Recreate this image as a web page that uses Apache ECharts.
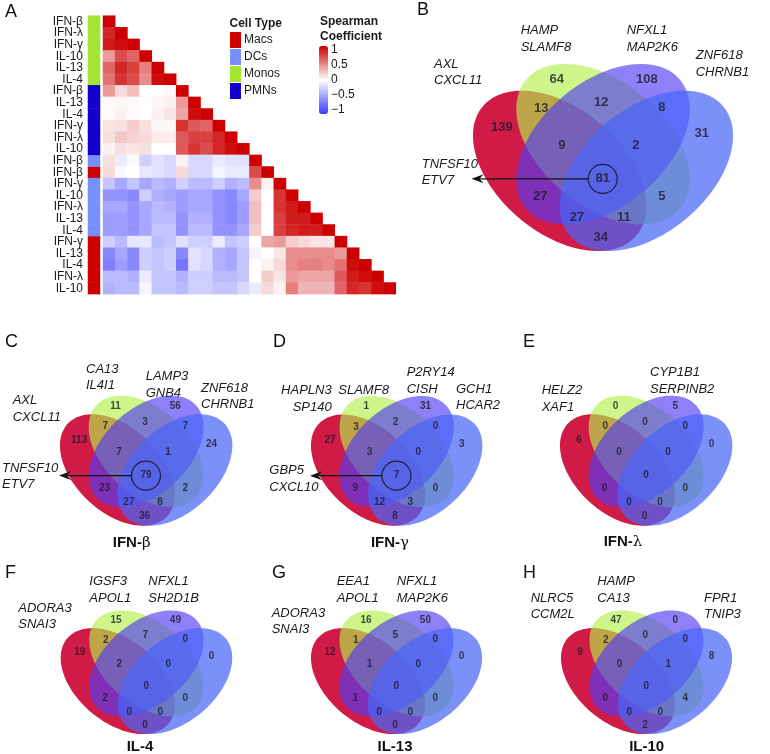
<!DOCTYPE html>
<html><head><meta charset="utf-8">
<script src="https://cdn.jsdelivr.net/npm/echarts@6/dist/echarts.min.js"></script>
<style>html,body{margin:0;padding:0;background:#fff}#c{width:770px;height:754px}</style>
</head><body><div id="c"></div><script>
const FONT = '"Liberation Sans", Arial, Helvetica, sans-serif';

// ---------- Panel A data ----------
const rowLabels = ['IFN-β','IFN-λ','IFN-γ','IL-10','IL-13','IL-4',
  'IFN-β','IL-13','IL-4','IFN-γ','IFN-λ','IL-10',
  'IFN-β','IFN-β',
  'IFN-γ','IL-10','IFN-λ','IL-13','IL-4',
  'IFN-γ','IL-13','IL-4','IFN-λ','IL-10'];
const rowCellType = ['Monos','Monos','Monos','Monos','Monos','Monos',
  'PMNs','PMNs','PMNs','PMNs','PMNs','PMNs',
  'DCs','Macs',
  'DCs','DCs','DCs','DCs','DCs',
  'Macs','Macs','Macs','Macs','Macs'];
const cellTypes = ['Macs','DCs','Monos','PMNs'];
const cellTypeColors = ['#cc0000','#7890ff','#a0e632','#1400cc'];
const corr = [
 [1],
 [0.85,1],
 [0.9,0.95,1],
 [0.4,0.7,0.6,1],
 [0.6,0.85,0.75,0.5,1],
 [0.55,0.8,0.7,0.45,0.95,1],
 [0.4,0.15,0.25,0.0,0.0,0.03,1],
 [0.02,0.03,0.02,0.0,0.03,0.05,0.4,1],
 [0.02,0.05,0.02,0.0,0.05,0.1,0.35,0.95,1],
 [0.1,0.12,0.2,0.12,0.03,0.03,0.8,0.65,0.6,1],
 [0.12,0.22,0.18,0.15,0.08,0.08,0.65,0.75,0.75,0.85,1],
 [0.05,0.12,0.1,0.12,0.0,0.0,0.65,0.8,0.7,0.85,0.95,1],
 [0.12,-0.1,-0.02,-0.25,-0.15,-0.2,0.05,-0.2,-0.2,-0.1,-0.15,-0.15,1],
 [0.15,-0.03,0.0,-0.12,-0.15,-0.2,0.15,-0.2,-0.2,-0.05,-0.1,-0.1,0.7,1],
 [-0.3,-0.45,-0.3,-0.45,-0.35,-0.4,-0.25,-0.35,-0.35,-0.25,-0.4,-0.35,0.45,0.05,1],
 [-0.55,-0.55,-0.6,-0.25,-0.4,-0.45,-0.5,-0.45,-0.45,-0.55,-0.6,-0.45,0.2,0.0,0.8,1],
 [-0.45,-0.45,-0.55,-0.45,-0.35,-0.4,-0.5,-0.45,-0.45,-0.55,-0.6,-0.5,0.25,0.0,0.8,0.9,1],
 [-0.5,-0.5,-0.55,-0.45,-0.35,-0.35,-0.55,-0.4,-0.4,-0.55,-0.6,-0.5,0.25,0.0,0.75,0.9,0.9,1],
 [-0.5,-0.5,-0.55,-0.45,-0.3,-0.3,-0.55,-0.35,-0.35,-0.55,-0.55,-0.45,0.2,0.0,0.75,0.85,0.9,0.9,1],
 [-0.25,-0.35,-0.12,-0.12,-0.35,-0.3,-0.15,-0.25,-0.25,-0.1,-0.3,-0.25,0.0,0.35,0.4,0.2,0.15,0.1,0.1,1],
 [-0.6,-0.45,-0.6,-0.25,-0.3,-0.25,-0.6,-0.15,-0.2,-0.4,-0.45,-0.3,-0.05,0.0,0.1,0.45,0.45,0.45,0.45,0.4,1],
 [-0.65,-0.5,-0.6,-0.25,-0.3,-0.25,-0.7,-0.15,-0.2,-0.4,-0.45,-0.3,0.0,0.05,0.15,0.45,0.5,0.5,0.45,0.55,0.95,1],
 [-0.35,-0.35,-0.4,-0.1,-0.3,-0.3,-0.4,-0.25,-0.25,-0.35,-0.35,-0.3,0.0,0.2,0.1,0.4,0.35,0.35,0.35,0.65,0.9,0.95,1],
 [-0.4,-0.35,-0.35,-0.05,-0.3,-0.3,-0.35,-0.25,-0.25,-0.3,-0.3,-0.2,-0.1,0.15,0.05,0.5,0.3,0.3,0.3,0.6,0.85,0.8,0.95,1]
];
const scaleMin = -1, scaleMax = 1, scaleStep = 0.5;

// ---------- Venn data (regions: A=red, B=green, C=purple, D=blue) ----------
const regions = ['A','B','C','D','AB','BC','CD','ABC','BCD','ABCD','AC','BD','ACD','ABD','AD'];
const countsB = [139,64,108,31,13,12,8,9,2,81,27,5,27,11,34];
const countsC = [113,11,56,24,7,3,7,7,1,79,23,2,27,8,36];
const countsD = [27,1,31,3,3,2,0,3,0,7,9,0,12,3,8];
const countsE = [6,0,5,0,0,0,0,0,0,0,0,0,0,0,0];
const countsF = [19,15,49,0,2,7,0,2,0,0,2,0,0,0,0];
const countsG = [12,16,50,0,1,5,0,1,0,0,1,0,0,0,0];
const countsH = [9,47,0,8,2,0,0,0,1,0,0,4,0,0,2];

const genesB = [['AXL','CXCL11'],['HAMP','SLAMF8'],['NFXL1','MAP2K6'],['ZNF618','CHRNB1'],['TNFSF10','ETV7']];
const genesC = [['AXL','CXCL11'],['CA13','IL4I1'],['LAMP3','GNB4'],['ZNF618','CHRNB1'],['TNFSF10','ETV7']];
const genesD = [['HAPLN3','SP140'],['SLAMF8'],['P2RY14','CISH'],['GCH1','HCAR2'],['GBP5','CXCL10']];
const genesE = [['HELZ2','XAF1'],['CYP1B1','SERPINB2']];
const genesF = [['ADORA3','SNAI3'],['IGSF3','APOL1'],['NFXL1','SH2D1B']];
const genesG = [['ADORA3','SNAI3'],['EEA1','APOL1'],['NFXL1','MAP2K6']];
const genesH = [['NLRC5','CCM2L'],['HAMP','CA13'],['FPR1','TNIP3']];
const titleNames = [['IFN-','β'],['IFN-','γ'],['IFN-','λ'],['IL-4',''],['IL-13',''],['IL-10','']];

// ---------- Layout ----------
const regionXY = {A:[0.150,0.632],B:[0.340,0.813],C:[0.652,0.813],D:[0.842,0.611],AB:[0.286,0.704],
  BC:[0.494,0.727],CD:[0.704,0.707],ABC:[0.358,0.567],BCD:[0.614,0.567],ABCD:[0.499,0.44],
  AC:[0.283,0.373],BD:[0.704,0.373],ACD:[0.410,0.296],ABD:[0.572,0.296],AD:[0.492,0.221]};
const ELL = [
  {cx:0.35, cy:0.47, rot:135, fill:'rgba(203,2,50,0.9)'},
  {cx:0.50, cy:0.57, rot:135, fill:'rgba(178,240,75,0.65)'},
  {cx:0.50, cy:0.57, rot:45,  fill:'rgba(81,60,243,0.65)'},
  {cx:0.65, cy:0.47, rot:45,  fill:'rgba(73,101,247,0.72)'}
];
const ELL_A = 0.36, ELL_B = 0.225;

const venns = [
  {letter:'B', lx:417, ly:10, counts:countsB, genes:genesB, box:[473,64,260,187], fs:13, circle:true,
   gpos:[[434,64.3,'left'],[520.7,30.7,'left'],[626.7,30.7,'left'],[695.7,55.7,'left'],[421.7,164.3,'left']]},
  {letter:'C', lx:5, ly:342.5, counts:countsC, genes:genesC, box:[60,395.7,172.3,130], fs:10, circle:true,
   gpos:[[12.7,400.7,'left'],[86,369.3,'left'],[145.7,376.5,'left'],[201,388.3,'left'],[2,468.3,'left']],
   title:titleNames[0], tx:131.7, ty:543.3},
  {letter:'D', lx:273, ly:342.5, counts:countsD, genes:genesD, box:[311,396,171.3,129.7], fs:10, circle:true,
   gpos:[[331.7,390.7,'right'],[338.3,390.7,'left'],[406.7,372.7,'left'],[456,389.3,'left'],[269.3,470.7,'left']],
   title:titleNames[1], tx:390, ty:543.3},
  {letter:'E', lx:523, ly:342.5, counts:countsE, genes:genesE, box:[560,395.7,172.3,130], fs:10, circle:false,
   gpos:[[541.7,390.7,'left'],[650,372.7,'left']],
   title:titleNames[2], tx:623, ty:541.7},
  {letter:'F', lx:5, ly:573.5, counts:countsF, genes:genesF, box:[60.7,610.5,171.5,123.5], fs:10, circle:false,
   gpos:[[18.3,608.3,'left'],[89.3,581.7,'left'],[148.3,581.7,'left']],
   title:titleNames[3], tx:140, ty:746.5},
  {letter:'G', lx:272, ly:573.5, counts:countsG, genes:genesG, box:[311,610.5,171,123.5], fs:10, circle:false,
   gpos:[[271.7,613.3,'left'],[336.7,581.7,'left'],[396.7,581.7,'left']],
   title:titleNames[4], tx:395, ty:746.5},
  {letter:'H', lx:523, ly:573.5, counts:countsH, genes:genesH, box:[561,610.5,171,123.5], fs:10, circle:false,
   gpos:[[530.7,598.3,'left'],[597.3,581.7,'left'],[704,598.3,'left']],
   title:titleNames[5], tx:646.7, ty:746.5}
];

// ---------- Build option ----------
const idx = rowLabels.map((_, i) => i);
const heatData = [];
corr.forEach((row, r) => row.forEach((v, c) => heatData.push([c, r, v])));

const grids = [], xAxes = [], yAxes = [], series = [], graphics = [];
grids.push({left:103, top:15.7, width:292.8, height:278.4});
xAxes.push({type:'category', data:idx, show:false, gridIndex:0});
yAxes.push({type:'category', data:idx, inverse:true, show:false, gridIndex:0});
series.push({type:'heatmap', xAxisIndex:0, yAxisIndex:0, data:heatData, itemStyle:{borderWidth:0}, emphasis:{disabled:true}});
grids.push({left:88, top:15.7, width:12, height:278.4});
xAxes.push({type:'category', data:[0], show:false, gridIndex:1});
yAxes.push({type:'category', data:idx, inverse:true, gridIndex:1,
  axisLine:{show:false}, axisTick:{show:false}, splitLine:{show:false},
  axisLabel:{interval:0, margin:5, fontSize:12, color:'#1a1a1a', fontFamily:FONT, formatter:(v, i) => rowLabels[i]}});
cellTypes.forEach((ct, k) => {
  series.push({type:'heatmap', name:ct, xAxisIndex:1, yAxisIndex:1,
    data: rowCellType.map((t, i) => t === ct ? [0, i, 1] : null).filter(d => d),
    itemStyle:{color:cellTypeColors[k], borderWidth:0}, emphasis:{disabled:true}});
});
grids.push({left:319, top:50, width:9, height:60});
xAxes.push({type:'value', show:false, gridIndex:2});
yAxes.push({type:'value', gridIndex:2, min:scaleMin, max:scaleMax, interval:scaleStep, position:'right',
  axisLine:{show:false}, axisTick:{show:false}, splitLine:{show:false},
  axisLabel:{margin:3, fontSize:12, color:'#1a1a1a', fontFamily:FONT, formatter:v => String(v).replace('-', '\u2212')}});

function ellipseItem(params, api) {
  const e = ELL[params.dataIndex];
  const th = e.rot * Math.PI / 180, c = Math.cos(th), s = Math.sin(th);
  const pts = [];
  for (let k = 0; k < 120; k++) {
    const t = 2 * Math.PI * k / 120;
    const x = e.cx + ELL_A * Math.cos(t) * c - ELL_B * Math.sin(t) * s;
    const y = e.cy + ELL_A * Math.cos(t) * s + ELL_B * Math.sin(t) * c;
    pts.push(api.coord([x, y]));
  }
  return {type:'polygon', shape:{points:pts}, style:{fill:e.fill}};
}
function arrowItem(params, api) {
  const p = api.coord([api.value(0), api.value(1)]);
  const tip = api.coord([0.045, api.value(1)])[0];
  const y = p[1], x0 = p[0] - 14.5;
  return {type:'group', children:[
    {type:'line', shape:{x1:x0, y1:y, x2:tip + 7, y2:y}, style:{stroke:'#111', lineWidth:1.2}},
    {type:'polygon', shape:{points:[[tip, y], [tip + 12, y - 4.5], [tip + 8, y], [tip + 12, y + 4.5]]}, style:{fill:'#111'}}
  ]};
}

venns.forEach((v) => {
  const gi = grids.length;
  grids.push({left:v.box[0], top:v.box[1], width:v.box[2], height:v.box[3]});
  xAxes.push({type:'value', min:0.05, max:0.95, show:false, gridIndex:gi});
  yAxes.push({type:'value', min:0.17, max:0.87, show:false, gridIndex:gi});
  series.push({type:'custom', xAxisIndex:gi, yAxisIndex:gi, renderItem:ellipseItem, clip:false, silent:true,
    data: ELL.map(e => [e.cx, e.cy]), z:1});
  series.push({type:'scatter', xAxisIndex:gi, yAxisIndex:gi, symbolSize:1, silent:true, z:3,
    itemStyle:{color:'rgba(0,0,0,0)'},
    label:{show:true, position:'inside', formatter:p => String(p.value[2]), fontSize:v.fs, fontWeight:'bold',
      color:'#1c1c28', fontFamily:FONT},
    data: regions.map((r, i) => [regionXY[r][0], regionXY[r][1], v.counts[i]])});
  if (v.circle) {
    const c = regionXY.ABCD;
    series.push({type:'scatter', xAxisIndex:gi, yAxisIndex:gi, symbol:'circle', symbolSize:29, silent:true, z:4,
      itemStyle:{color:'rgba(0,0,0,0)', borderColor:'#111', borderWidth:1.2}, data:[[c[0], c[1]]]});
    series.push({type:'custom', xAxisIndex:gi, yAxisIndex:gi, renderItem:arrowItem, clip:false, silent:true, z:4,
      data:[[c[0], c[1]]]});
  }
  graphics.push({type:'text', x:v.lx, y:v.ly, style:{text:v.letter, font:'18px ' + FONT, fill:'#111', verticalAlign:'middle'}});
  v.genes.forEach((g, j) => {
    const gp = v.gpos[j];
    graphics.push({type:'text', x:gp[0], y:gp[1] - 8.25, style:{text:g.join('\n'), font:'italic 13px ' + FONT,
      fill:'#1a1a1a', align:gp[2], verticalAlign:'top', lineHeight:16.5}});
  });
  if (v.title) {
    graphics.push({type:'text', x:v.tx, y:v.ty, style:{text:'{b|' + v.title[0] + '}' + (v.title[1] ? '{g|' + v.title[1] + '}' : ''),
      align:'center', verticalAlign:'middle',
      rich:{b:{fontSize:15, fontWeight:'bold', fontFamily:FONT, fill:'#111'}, g:{fontSize:15, fontFamily:'"DejaVu Serif", serif', fill:'#111'}}}});
  }
});

graphics.push({type:'text', x:5, y:11.7, style:{text:'A', font:'18px ' + FONT, fill:'#111', verticalAlign:'middle'}});
graphics.push({type:'text', x:229.5, y:23.3, style:{text:'Cell Type', font:'bold 12px ' + FONT, fill:'#1a1a1a', verticalAlign:'middle'}});
graphics.push({type:'text', x:320, y:14.5, style:{text:'Spearman\nCoefficient', font:'bold 12px ' + FONT, fill:'#1a1a1a', verticalAlign:'top', lineHeight:15}});

const option = {
  backgroundColor:'#fff',
  animation:false,
  grid:grids, xAxis:xAxes, yAxis:yAxes, series:series,
  visualMap:{type:'continuous', seriesIndex:0, min:scaleMin, max:scaleMax, calculable:false, hoverLink:false,
    left:319, top:46, itemWidth:9, itemHeight:68, padding:0, text:null,
    inRange:{color:['#3b3bff','#ffffff','#cc0000']}},
  legend:{data:cellTypes, orient:'vertical', left:230, top:32, itemWidth:11, itemHeight:16, itemGap:1,
    icon:'rect', selectedMode:false, padding:0, itemStyle:{borderWidth:0},
    textStyle:{fontSize:12, color:'#1a1a1a', fontFamily:FONT, padding:[0,0,0,-2]}},
  graphic:graphics
};
const chart = echarts.init(document.getElementById('c'), null, {renderer:'canvas'});
chart.setOption(option);
</script></body></html>
